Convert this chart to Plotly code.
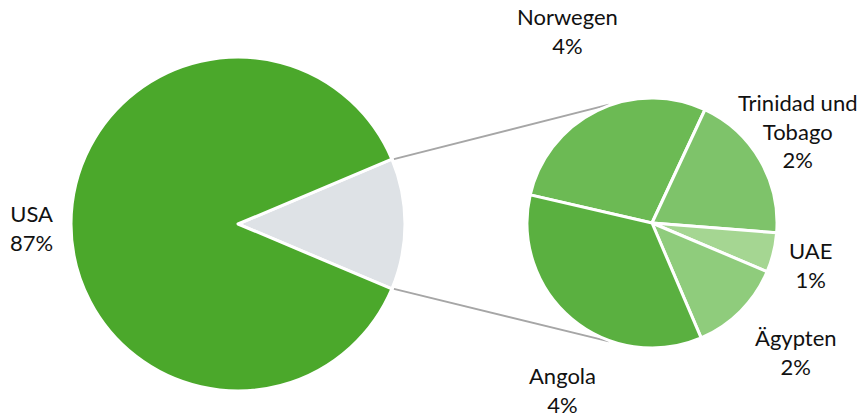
import math
import plotly.graph_objects as go

W, H = 862, 418

# ---- data (percent of total) ----
main_labels = ["Sonstige", "USA"]
main_values = [12.7, 87.3]
main_text_label = "USA"

sec_labels = ["Norwegen", "Trinidad und Tobago", "UAE", "Ägypten", "Angola"]
sec_values = [3.6, 2.45, 0.65, 1.55, 4.45]
sec_label_text = ["Norwegen", "Trinidad und<br>Tobago", "UAE", "Ägypten", "Angola"]

# ---- styles ----
main_colors = ["#dee2e6", "#4ba82b"]
sec_colors = ["#6cba54", "#7ec36a", "#a5d692", "#8fcc7c", "#5ab040"]
FONT = "Lato"
FSIZE = 22

MAIN_C, MAIN_R = (238, 224), 167
SEC_C, SEC_R = (652, 223), 125
SEC_ROT = -77


def px(x):
    return x / W


def py(y):
    return 1 - y / H


fig = go.Figure()

other_share = main_values[0] / sum(main_values)
fig.add_trace(go.Pie(
    labels=main_labels, values=main_values, sort=False, direction="clockwise",
    rotation=90 - other_share * 360 / 2,
    marker=dict(colors=main_colors, line=dict(color="white", width=3)),
    textinfo="none", hoverinfo="label+percent", showlegend=False,
    domain=dict(x=[px(MAIN_C[0] - MAIN_R), px(MAIN_C[0] + MAIN_R)],
                y=[py(MAIN_C[1] + MAIN_R), py(MAIN_C[1] - MAIN_R)]),
))

fig.add_trace(go.Pie(
    labels=sec_labels, values=sec_values, sort=False, direction="clockwise",
    rotation=SEC_ROT,
    marker=dict(colors=sec_colors, line=dict(color="white", width=3)),
    textinfo="none", hoverinfo="label+value", showlegend=False,
    domain=dict(x=[px(SEC_C[0] - SEC_R), px(SEC_C[0] + SEC_R)],
                y=[py(SEC_C[1] + SEC_R), py(SEC_C[1] - SEC_R)]),
))

# connector lines
half = other_share * math.pi
for sgn in (1, -1):
    x0 = MAIN_C[0] + MAIN_R * math.cos(half)
    y0 = MAIN_C[1] - sgn * MAIN_R * math.sin(half)
    a = math.radians(110)
    x1 = SEC_C[0] + (SEC_R + 1) * math.cos(a)
    y1 = SEC_C[1] - sgn * (SEC_R + 1) * math.sin(a)
    fig.add_shape(type="line", xref="paper", yref="paper",
                  x0=px(x0 + 2), y0=py(y0), x1=px(x1), y1=py(y1),
                  line=dict(color="#a6a6a6", width=2), layer="below")

# labels
label_pos = {
    "USA": (31, 228),
    "Norwegen": (567, 31),
    "Trinidad und Tobago": (797, 131),
    "UAE": (810, 265),
    "Ägypten": (796, 352),
    "Angola": (562, 390),
}
total = sum(main_values)
ann = []
ux, uy = label_pos["USA"]
ann.append(dict(text=f"{main_text_label}<br>{round(main_values[1] / total * 100)}%",
                x=px(ux), y=py(uy)))
for lab, txt, v in zip(sec_labels, sec_label_text, sec_values):
    lx, ly = label_pos[lab]
    ann.append(dict(text=f"{txt}<br>{round(v / total * 100)}%", x=px(lx), y=py(ly)))
for a_ in ann:
    a_.update(xref="paper", yref="paper", xanchor="center", yanchor="middle",
              showarrow=False, align="center",
              font=dict(family=FONT, size=FSIZE, color="#111111"))

fig.update_layout(
    width=W, height=H, autosize=False,
    margin=dict(l=0, r=0, t=0, b=0),
    paper_bgcolor="white", plot_bgcolor="white",
    annotations=ann,
)

fig.write_html("out.html", config={"displayModeBar": False},
               post_script="document.body.style.margin='0px';document.body.style.overflow='hidden';")
